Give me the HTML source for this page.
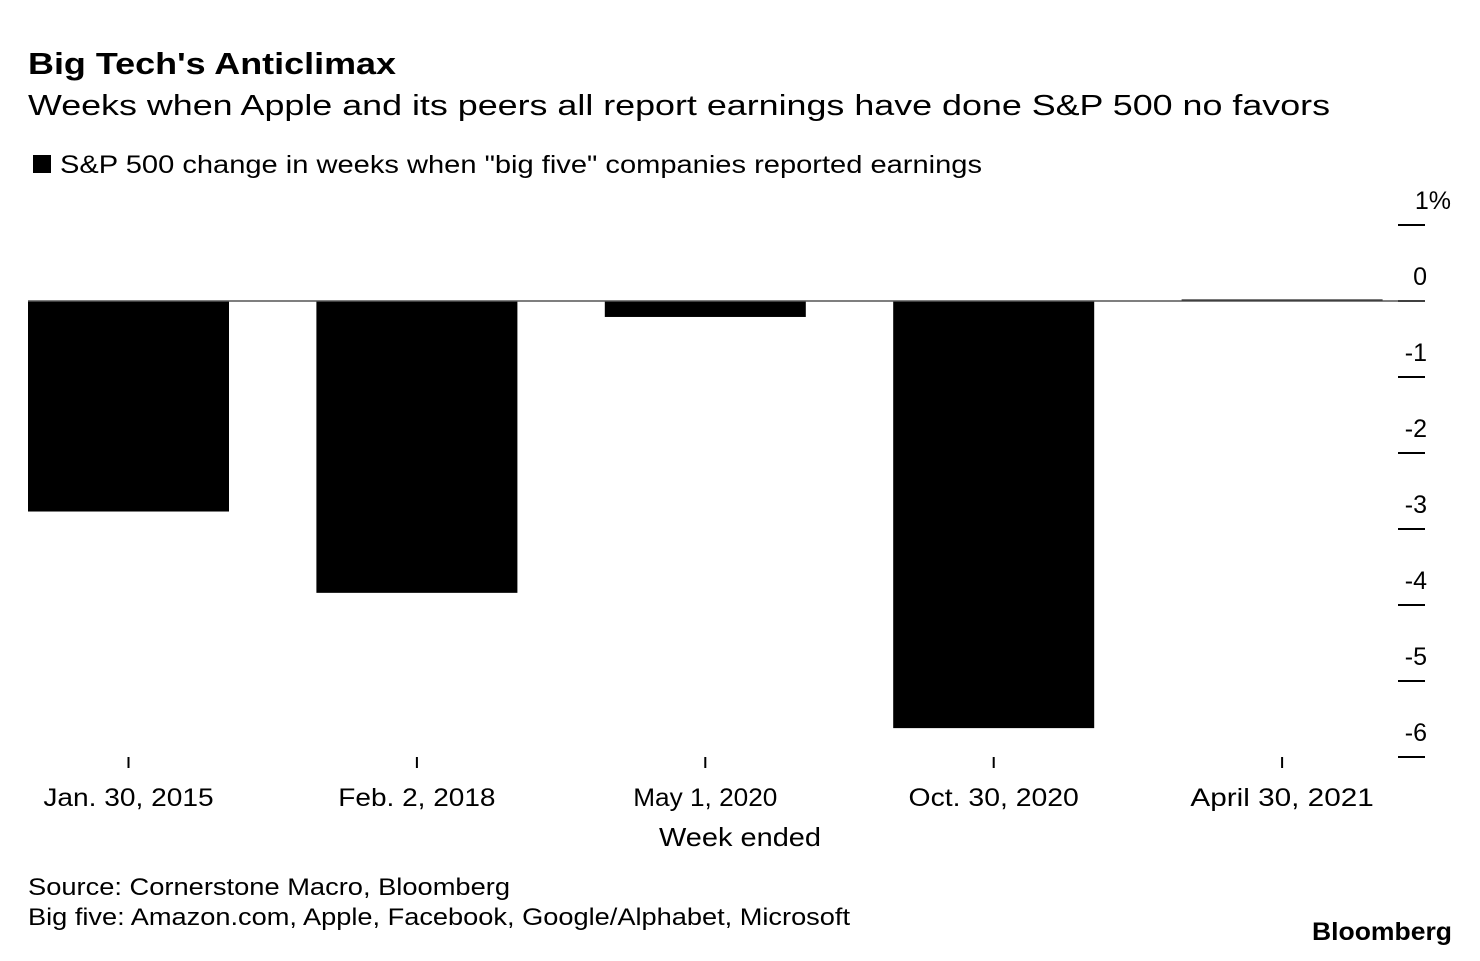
<!DOCTYPE html>
<html><head><meta charset="utf-8"><style>
body{margin:0;background:#fff;font-family:"Liberation Sans",Arial,sans-serif;}
</style></head><body>
<svg width="1480" height="956" xmlns="http://www.w3.org/2000/svg" style="font-family:'Liberation Sans',Arial,sans-serif">
<text x="28" y="74" font-size="31" font-weight="bold" fill="#000" textLength="368" lengthAdjust="spacingAndGlyphs">Big Tech's Anticlimax</text>
<text x="28" y="115" font-size="29" fill="#000" textLength="1302" lengthAdjust="spacingAndGlyphs">Weeks when Apple and its peers all report earnings have done S&amp;P 500 no favors</text>
<rect x="33" y="155" width="18" height="18" fill="#000"/>
<text x="60" y="173" font-size="25" fill="#000" textLength="922" lengthAdjust="spacingAndGlyphs">S&amp;P 500 change in weeks when "big five" companies reported earnings</text>
<g id="ticks"></g>
<g id="bars"></g>
<text x="740" y="846" font-size="26" text-anchor="middle" fill="#000" textLength="162" lengthAdjust="spacingAndGlyphs">Week ended</text>
<text x="28" y="895" font-size="24" fill="#000" textLength="482" lengthAdjust="spacingAndGlyphs">Source: Cornerstone Macro, Bloomberg</text>
<text x="28" y="925" font-size="24" fill="#000" textLength="822" lengthAdjust="spacingAndGlyphs">Big five: Amazon.com, Apple, Facebook, Google/Alphabet, Microsoft</text>
<text x="1312" y="940" font-size="25" font-weight="bold" fill="#000" textLength="140" lengthAdjust="spacingAndGlyphs">Bloomberg</text>
</svg>
<script>
const categories=["Jan. 30, 2015","Feb. 2, 2018","May 1, 2020","Oct. 30, 2020","April 30, 2021"];
const values=[-2.77,-3.84,-0.21,-5.62,0.02];
const tickValues=[1,0,-1,-2,-3,-4,-5,-6];
const tickLabels=["1%","0","-1","-2","-3","-4","-5","-6"];
const NS="http://www.w3.org/2000/svg";
const y=v=>301-v*76;
const step=288.4, x0=28, bw=201;
const xc=i=>x0+bw/2+i*step;
function mk(t,a,p){const e=document.createElementNS(NS,t);for(const k in a)e.setAttribute(k,a[k]);p.appendChild(e);return e;}
const tg=document.getElementById('ticks'), bg=document.getElementById('bars');
tickValues.forEach((v,i)=>{
 const l=mk('line',{x1:1398,x2:1425,y1:y(v),y2:y(v),stroke:'#000','stroke-width':2},tg);
 
 
 const lab=tickLabels[i];
 const hasPct=lab.endsWith('%');
 const t=mk('text',{x:hasPct?1451:1427,y:y(v)-16,'font-size':25,'text-anchor':'end',fill:'#000'},tg);
 t.textContent=lab;
 
 
});
categories.forEach((c,i)=>{
 const v=values[i];
 const r=mk('rect',{x:xc(i)-bw/2,y:Math.min(y(v),y(0)),width:bw,height:Math.max(Math.abs(y(v)-y(0)),1.5),fill:'#000'},bg);
 
 
 const tk=mk('line',{x1:xc(i),x2:xc(i),y1:757,y2:768,stroke:'#000','stroke-width':2},bg);
 
 
 const t=mk('text',{x:xc(i),y:806,'font-size':25,'text-anchor':'middle',fill:'#000'},bg);
 t.textContent=c;
 t.setAttribute('textLength',c.length*13.1);
 t.setAttribute('lengthAdjust','spacingAndGlyphs');
 
 
});
const zl=mk('line',{x1:28,x2:1425,y1:y(0),y2:y(0),stroke:'#555','stroke-width':1.5},bg);


</script>
</body></html>
